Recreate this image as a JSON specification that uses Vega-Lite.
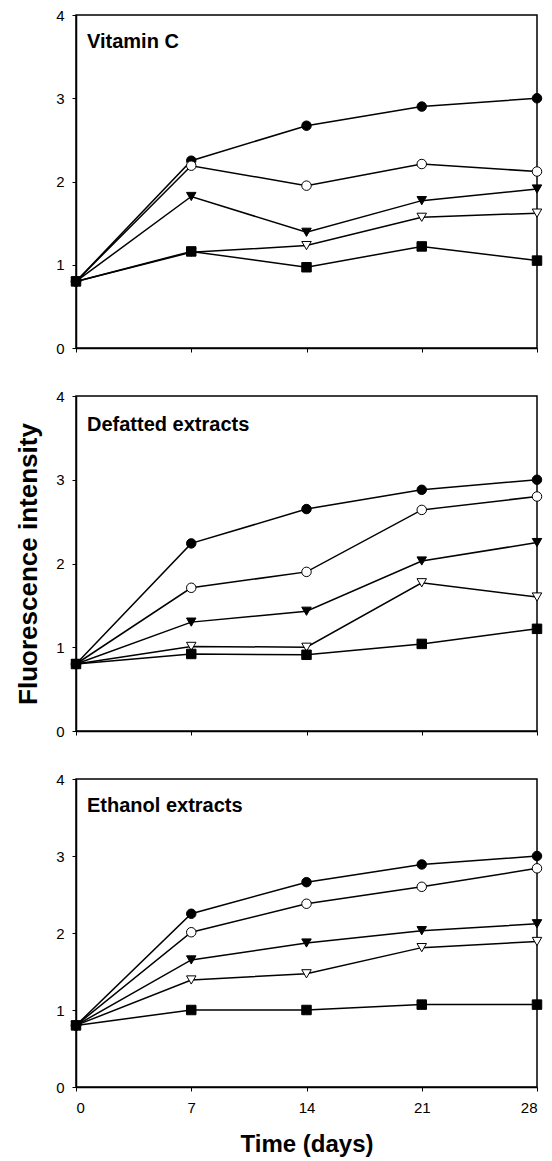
{
  "$schema": "https://vega.github.io/schema/vega-lite/v6.json",
  "background": "white",
  "padding": {"left": 14, "top": 7, "right": 10, "bottom": 3},
  "bounds": "flush",
  "spacing": 48,
  "config": {
    "font": "Liberation Sans",
    "view": {"stroke": "black", "strokeWidth": 1.5},
    "axis": {
      "grid": false,
      "domainColor": "black",
      "domainWidth": 1.5,
      "tickColor": "black",
      "tickWidth": 1,
      "tickSize": 4,
      "labelFont": "Liberation Sans",
      "labelFontSize": 15,
      "labelColor": "black",
      "labelPadding": 8,
      "titleFont": "Liberation Sans",
      "titleColor": "black",
      "titleFontWeight": "bold"
    }
  },
  "datasets": {
    "d": [
      {"panel": "Vitamin C", "series": "S1", "day": 0, "value": 0.8},
      {"panel": "Vitamin C", "series": "S1", "day": 7, "value": 2.25},
      {"panel": "Vitamin C", "series": "S1", "day": 14, "value": 2.67},
      {"panel": "Vitamin C", "series": "S1", "day": 21, "value": 2.9},
      {"panel": "Vitamin C", "series": "S1", "day": 28, "value": 3.0},
      {"panel": "Vitamin C", "series": "S2", "day": 0, "value": 0.8},
      {"panel": "Vitamin C", "series": "S2", "day": 7, "value": 2.19},
      {"panel": "Vitamin C", "series": "S2", "day": 14, "value": 1.95},
      {"panel": "Vitamin C", "series": "S2", "day": 21, "value": 2.21},
      {"panel": "Vitamin C", "series": "S2", "day": 28, "value": 2.12},
      {"panel": "Vitamin C", "series": "S3", "day": 0, "value": 0.8},
      {"panel": "Vitamin C", "series": "S3", "day": 7, "value": 1.82},
      {"panel": "Vitamin C", "series": "S3", "day": 14, "value": 1.39},
      {"panel": "Vitamin C", "series": "S3", "day": 21, "value": 1.77},
      {"panel": "Vitamin C", "series": "S3", "day": 28, "value": 1.91},
      {"panel": "Vitamin C", "series": "S4", "day": 0, "value": 0.8},
      {"panel": "Vitamin C", "series": "S4", "day": 7, "value": 1.15},
      {"panel": "Vitamin C", "series": "S4", "day": 14, "value": 1.23},
      {"panel": "Vitamin C", "series": "S4", "day": 21, "value": 1.57},
      {"panel": "Vitamin C", "series": "S4", "day": 28, "value": 1.62},
      {"panel": "Vitamin C", "series": "S5", "day": 0, "value": 0.8},
      {"panel": "Vitamin C", "series": "S5", "day": 7, "value": 1.16},
      {"panel": "Vitamin C", "series": "S5", "day": 14, "value": 0.97},
      {"panel": "Vitamin C", "series": "S5", "day": 21, "value": 1.22},
      {"panel": "Vitamin C", "series": "S5", "day": 28, "value": 1.05},
      {"panel": "Defatted extracts", "series": "S1", "day": 0, "value": 0.8},
      {"panel": "Defatted extracts", "series": "S1", "day": 7, "value": 2.24},
      {"panel": "Defatted extracts", "series": "S1", "day": 14, "value": 2.65},
      {"panel": "Defatted extracts", "series": "S1", "day": 21, "value": 2.88},
      {"panel": "Defatted extracts", "series": "S1", "day": 28, "value": 3.0},
      {"panel": "Defatted extracts", "series": "S2", "day": 0, "value": 0.8},
      {"panel": "Defatted extracts", "series": "S2", "day": 7, "value": 1.71},
      {"panel": "Defatted extracts", "series": "S2", "day": 14, "value": 1.9},
      {"panel": "Defatted extracts", "series": "S2", "day": 21, "value": 2.64},
      {"panel": "Defatted extracts", "series": "S2", "day": 28, "value": 2.8},
      {"panel": "Defatted extracts", "series": "S3", "day": 0, "value": 0.8},
      {"panel": "Defatted extracts", "series": "S3", "day": 7, "value": 1.3},
      {"panel": "Defatted extracts", "series": "S3", "day": 14, "value": 1.43},
      {"panel": "Defatted extracts", "series": "S3", "day": 21, "value": 2.03},
      {"panel": "Defatted extracts", "series": "S3", "day": 28, "value": 2.25},
      {"panel": "Defatted extracts", "series": "S4", "day": 0, "value": 0.8},
      {"panel": "Defatted extracts", "series": "S4", "day": 7, "value": 1.01},
      {"panel": "Defatted extracts", "series": "S4", "day": 14, "value": 1.0},
      {"panel": "Defatted extracts", "series": "S4", "day": 21, "value": 1.77},
      {"panel": "Defatted extracts", "series": "S4", "day": 28, "value": 1.6},
      {"panel": "Defatted extracts", "series": "S5", "day": 0, "value": 0.8},
      {"panel": "Defatted extracts", "series": "S5", "day": 7, "value": 0.92},
      {"panel": "Defatted extracts", "series": "S5", "day": 14, "value": 0.91},
      {"panel": "Defatted extracts", "series": "S5", "day": 21, "value": 1.04},
      {"panel": "Defatted extracts", "series": "S5", "day": 28, "value": 1.22},
      {"panel": "Ethanol extracts", "series": "S1", "day": 0, "value": 0.8},
      {"panel": "Ethanol extracts", "series": "S1", "day": 7, "value": 2.25},
      {"panel": "Ethanol extracts", "series": "S1", "day": 14, "value": 2.66},
      {"panel": "Ethanol extracts", "series": "S1", "day": 21, "value": 2.89},
      {"panel": "Ethanol extracts", "series": "S1", "day": 28, "value": 3.0},
      {"panel": "Ethanol extracts", "series": "S2", "day": 0, "value": 0.8},
      {"panel": "Ethanol extracts", "series": "S2", "day": 7, "value": 2.01},
      {"panel": "Ethanol extracts", "series": "S2", "day": 14, "value": 2.38},
      {"panel": "Ethanol extracts", "series": "S2", "day": 21, "value": 2.6},
      {"panel": "Ethanol extracts", "series": "S2", "day": 28, "value": 2.84},
      {"panel": "Ethanol extracts", "series": "S3", "day": 0, "value": 0.8},
      {"panel": "Ethanol extracts", "series": "S3", "day": 7, "value": 1.65},
      {"panel": "Ethanol extracts", "series": "S3", "day": 14, "value": 1.87},
      {"panel": "Ethanol extracts", "series": "S3", "day": 21, "value": 2.03},
      {"panel": "Ethanol extracts", "series": "S3", "day": 28, "value": 2.12},
      {"panel": "Ethanol extracts", "series": "S4", "day": 0, "value": 0.8},
      {"panel": "Ethanol extracts", "series": "S4", "day": 7, "value": 1.39},
      {"panel": "Ethanol extracts", "series": "S4", "day": 14, "value": 1.47},
      {"panel": "Ethanol extracts", "series": "S4", "day": 21, "value": 1.81},
      {"panel": "Ethanol extracts", "series": "S4", "day": 28, "value": 1.89},
      {"panel": "Ethanol extracts", "series": "S5", "day": 0, "value": 0.8},
      {"panel": "Ethanol extracts", "series": "S5", "day": 7, "value": 1.0},
      {"panel": "Ethanol extracts", "series": "S5", "day": 14, "value": 1.0},
      {"panel": "Ethanol extracts", "series": "S5", "day": 21, "value": 1.07},
      {"panel": "Ethanol extracts", "series": "S5", "day": 28, "value": 1.07}
    ]
  },
  "vconcat": [
    {
      "width": 461,
      "height": 333,
      "data": {"name": "d"},
      "transform": [{"filter": "datum.panel == 'Vitamin C'"}],
      "title": {"text": "Vitamin C", "anchor": "start", "frame": "group", "orient": "top", "offset": -60, "dx": 11, "baseline": "alphabetic", "fontSize": 20, "fontWeight": "bold", "color": "black", "font": "Liberation Sans"},
      "encoding": {
        "x": {"field": "day", "type": "quantitative", "scale": {"domain": [0, 28], "nice": false, "zero": false}, "axis": {"values": [0, 7, 14, 21, 28], "labels": false, "title": null}},
        "y": {"field": "value", "type": "quantitative", "scale": {"domain": [0, 4], "nice": false}, "axis": {"values": [0, 1, 2, 3, 4], "title": null}}
      },
      "layer": [
        {"mark": {"type": "line", "color": "black", "strokeWidth": 1.5}, "encoding": {"detail": {"field": "series"}}},
        {"mark": {"type": "point", "filled": true, "stroke": "black", "strokeWidth": 1, "size": 90, "opacity": 1},
         "encoding": {
           "shape": {"field": "series", "scale": {"domain": ["S1", "S2", "S3", "S4", "S5"], "range": ["circle", "circle", "triangle-down", "triangle-down", "square"]}, "legend": null},
           "fill": {"field": "series", "scale": {"domain": ["S1", "S2", "S3", "S4", "S5"], "range": ["black", "white", "black", "white", "black"]}, "legend": null}
         }}
      ]
    },
    {
      "width": 461,
      "height": 335,
      "data": {"name": "d"},
      "transform": [{"filter": "datum.panel == 'Defatted extracts'"}],
      "title": {"text": "Defatted extracts", "anchor": "start", "frame": "group", "orient": "top", "offset": -62, "dx": 11, "baseline": "alphabetic", "fontSize": 20, "fontWeight": "bold", "color": "black", "font": "Liberation Sans"},
      "encoding": {
        "x": {"field": "day", "type": "quantitative", "scale": {"domain": [0, 28], "nice": false, "zero": false}, "axis": {"values": [0, 7, 14, 21, 28], "labels": false, "title": null}},
        "y": {"field": "value", "type": "quantitative", "scale": {"domain": [0, 4], "nice": false}, "axis": {"values": [0, 1, 2, 3, 4], "title": "Fluorescence intensity", "titleFontSize": 26, "titlePadding": 14}}
      },
      "layer": [
        {"mark": {"type": "line", "color": "black", "strokeWidth": 1.5}, "encoding": {"detail": {"field": "series"}}},
        {"mark": {"type": "point", "filled": true, "stroke": "black", "strokeWidth": 1, "size": 90, "opacity": 1},
         "encoding": {
           "shape": {"field": "series", "scale": {"domain": ["S1", "S2", "S3", "S4", "S5"], "range": ["circle", "circle", "triangle-down", "triangle-down", "square"]}, "legend": null},
           "fill": {"field": "series", "scale": {"domain": ["S1", "S2", "S3", "S4", "S5"], "range": ["black", "white", "black", "white", "black"]}, "legend": null}
         }}
      ]
    },
    {
      "width": 461,
      "height": 308,
      "data": {"name": "d"},
      "transform": [{"filter": "datum.panel == 'Ethanol extracts'"}],
      "title": {"text": "Ethanol extracts", "anchor": "start", "frame": "group", "orient": "top", "offset": -60, "dx": 11, "baseline": "alphabetic", "fontSize": 20, "fontWeight": "bold", "color": "black", "font": "Liberation Sans"},
      "encoding": {
        "x": {"field": "day", "type": "quantitative", "scale": {"domain": [0, 28], "nice": false, "zero": false}, "axis": {"values": [0, 7, 14, 21, 28], "title": "Time (days)", "titleFontSize": 24, "titlePadding": 17, "labelPadding": 9}},
        "y": {"field": "value", "type": "quantitative", "scale": {"domain": [0, 4], "nice": false}, "axis": {"values": [0, 1, 2, 3, 4], "title": null}}
      },
      "layer": [
        {"mark": {"type": "line", "color": "black", "strokeWidth": 1.5}, "encoding": {"detail": {"field": "series"}}},
        {"mark": {"type": "point", "filled": true, "stroke": "black", "strokeWidth": 1, "size": 90, "opacity": 1},
         "encoding": {
           "shape": {"field": "series", "scale": {"domain": ["S1", "S2", "S3", "S4", "S5"], "range": ["circle", "circle", "triangle-down", "triangle-down", "square"]}, "legend": null},
           "fill": {"field": "series", "scale": {"domain": ["S1", "S2", "S3", "S4", "S5"], "range": ["black", "white", "black", "white", "black"]}, "legend": null}
         }}
      ]
    }
  ]
}
